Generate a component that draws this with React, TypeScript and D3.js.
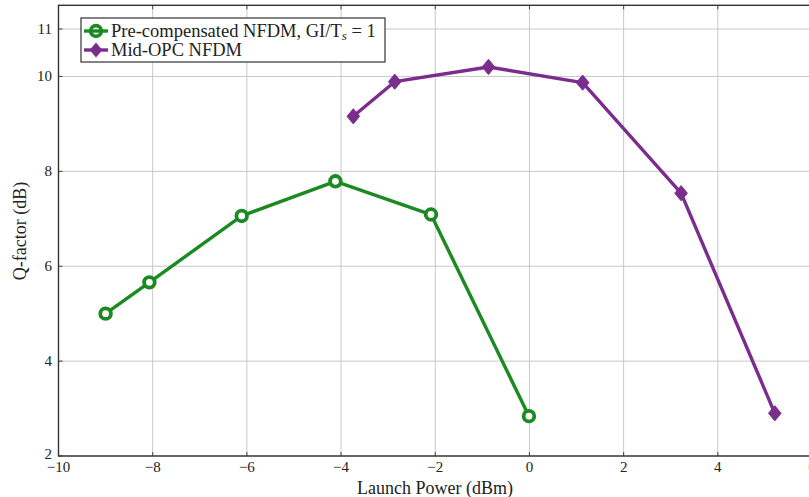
import React from "react";
import * as d3 from "d3";

const greenX = [-9.0, -8.07, -6.11, -4.12, -2.09, -0.01];
const greenY = [5.0, 5.66, 7.06, 7.79, 7.09, 2.84];
const purpleX = [-3.74, -2.86, -0.87, 1.13, 3.22, 5.21];
const purpleY = [9.16, 9.89, 10.2, 9.87, 7.54, 2.9];
const xTicks = [-10, -8, -6, -4, -2, 0, 2, 4, 6];
const yTicks = [2, 4, 6, 8, 10, 11];
const legendLabels = ["Pre-compensated NFDM, GI/T", "Mid-OPC NFDM"];

const W = 809;
const H = 497;
const GREEN = "#1b8a22";
const PURPLE = "#7b2d8e";

export default function App() {
  const x = d3.scaleLinear().domain([-10, 6]).range([58.5, 812]);
  const y = d3.scaleLinear().domain([2, 11.5]).range([456, 5.3]);
  const line = d3
    .line<[number, number]>()
    .x((d) => x(d[0]))
    .y((d) => y(d[1]));
  const g = greenX.map((v, i) => [v, greenY[i]] as [number, number]);
  const p = purpleX.map((v, i) => [v, purpleY[i]] as [number, number]);
  const diamond = (cx: number, cy: number) =>
    `M${cx},${cy - 7.6}L${cx + 6.3},${cy}L${cx},${cy + 7.6}L${cx - 6.3},${cy}Z`;
  const fmt = (v: number) => (v < 0 ? "\u2212" + Math.abs(v) : String(v));

  return (
    <svg
      width={W}
      height={H}
      style={{ position: "absolute", left: 0, top: 0, background: "#fff" }}
      fontFamily="'Liberation Serif', serif"
    >
      {/* grid */}
      {xTicks.map((t) => (
        <line key={"gx" + t} x1={x(t)} x2={x(t)} y1={y(11.5)} y2={y(2)} stroke="#c8c8c8" strokeWidth={1} />
      ))}
      {yTicks.map((t) => (
        <line key={"gy" + t} x1={x(-10)} x2={x(6)} y1={y(t)} y2={y(t)} stroke="#c8c8c8" strokeWidth={1} />
      ))}
      {/* ticks inside */}
      {xTicks.map((t) => (
        <g key={"tx" + t}>
          <line x1={x(t)} x2={x(t)} y1={y(2)} y2={y(2) - 4} stroke="#444" strokeWidth={1} />
          <line x1={x(t)} x2={x(t)} y1={y(11.5)} y2={y(11.5) + 4} stroke="#444" strokeWidth={1} />
        </g>
      ))}
      {yTicks.map((t) => (
        <line key={"ty" + t} x1={x(-10)} x2={x(-10) + 4} y1={y(t)} y2={y(t)} stroke="#444" strokeWidth={1} />
      ))}
      {/* frame */}
      <rect x={x(-10)} y={y(11.5)} width={x(6) - x(-10)} height={y(2) - y(11.5)} fill="none" stroke="#333" strokeWidth={1.4} />
      {/* tick labels */}
      {xTicks.map((t) => (
        <text key={"lx" + t} x={x(t)} y={472} textAnchor="middle" fontSize={15} fill="#222">
          {fmt(t)}
        </text>
      ))}
      {yTicks.map((t) => (
        <text key={"ly" + t} x={52} y={y(t) + (t === 2 ? 3 : 5)} textAnchor="end" fontSize={15} fill="#222">
          {fmt(t)}
        </text>
      ))}
      {/* axis labels */}
      <text x={435} y={494} textAnchor="middle" fontSize={18} fill="#222">
        Launch Power (dBm)
      </text>
      <text transform={`translate(26,231) rotate(-90)`} textAnchor="middle" fontSize={18} fill="#222">
        Q-factor (dB)
      </text>
      {/* series */}
      <path d={line(g) || ""} fill="none" stroke={GREEN} strokeWidth={3.4} strokeLinejoin="round" />
      {g.map((d, i) => (
        <circle key={"gc" + i} cx={x(d[0])} cy={y(d[1])} r={5.3} fill="#fff" stroke={GREEN} strokeWidth={3.8} />
      ))}
      <path d={line(p) || ""} fill="none" stroke={PURPLE} strokeWidth={3.4} strokeLinejoin="round" />
      {p.map((d, i) => (
        <path key={"pd" + i} d={diamond(x(d[0]), y(d[1]))} fill={PURPLE} stroke={PURPLE} strokeWidth={1} />
      ))}
      {/* legend */}
      <rect x={81} y={18} width={304} height={44} fill="#fff" stroke="#333" strokeWidth={1.2} />
      <line x1={84} x2={108} y1={31} y2={31} stroke={GREEN} strokeWidth={3.4} />
      <circle cx={96} cy={31} r={5.3} fill="none" stroke={GREEN} strokeWidth={3.8} />
      <line x1={84} x2={108} y1={50} y2={50} stroke={PURPLE} strokeWidth={3.4} />
      <path d={diamond(96, 50)} fill={PURPLE} />
      <text x={111} y={37} fontSize={18.5} fill="#222">
        {legendLabels[0]}
        <tspan fontSize={13} fontStyle="italic" dy={3}>s</tspan>
        <tspan dy={-3}> = 1</tspan>
      </text>
      <text x={111} y={56} fontSize={18.5} fill="#222">
        {legendLabels[1]}
      </text>
    </svg>
  );
}
